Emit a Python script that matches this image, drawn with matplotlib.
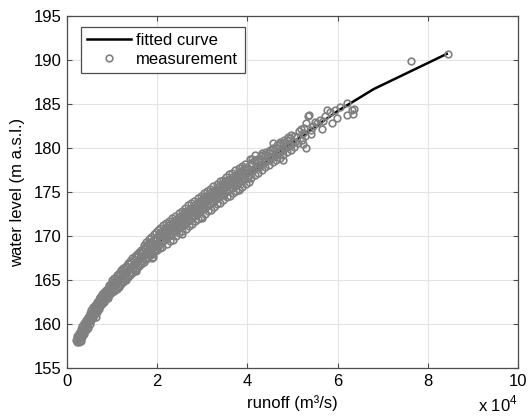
import matplotlib
matplotlib.use("Agg")
import matplotlib.pyplot as plt

plt.rcParams["font.family"] = ["Liberation Sans", "DejaVu Sans"]
plt.rcParams["mathtext.fontset"] = "custom"
plt.rcParams["mathtext.rm"] = "Liberation Sans"

# fitted rating curve (runoff in 1e4 m3/s, level in m a.s.l.)
curve_runoff = [0.22, 0.3, 0.4, 0.5, 0.6, 0.7, 0.8, 0.9, 1.0, 1.25, 1.5, 1.75,
                2.0, 2.5, 3.0, 3.5, 4.0, 4.5, 5.0, 5.5, 6.0, 6.8, 8.42]
curve_level = [158.0, 158.75, 159.7, 160.6, 161.5, 162.25, 162.95, 163.6, 164.2,
               165.6, 166.9, 168.1, 169.2, 171.3, 173.3, 175.2, 177.0, 178.8,
               180.6, 182.4, 184.2, 186.7, 190.7]

# measurements, low flows
low_runoff = [0.21, 0.23, 0.24, 0.26, 0.27, 0.29, 0.30, 0.32, 0.33, 0.35, 0.36, 0.38,
              0.39, 0.41, 0.42, 0.44, 0.45, 0.47, 0.48, 0.50, 0.51, 0.53, 0.54, 0.56,
              0.57, 0.59, 0.60, 0.62, 0.63, 0.65, 0.66, 0.68, 0.69, 0.71, 0.72, 0.74,
              0.75, 0.77, 0.78, 0.80, 0.81, 0.83, 0.84, 0.86, 0.87, 0.89, 0.90, 0.92,
              0.93, 0.95, 0.96, 0.98, 0.99, 1.01,
              0.22, 0.26, 0.26, 0.30, 0.30, 0.34, 0.34, 0.38, 0.38, 0.42, 0.42, 0.46,
              0.46, 0.50, 0.50, 0.54, 0.54, 0.58, 0.58, 0.62, 0.62, 0.66, 0.66, 0.70,
              0.70, 0.74, 0.74, 0.78, 0.78, 0.82, 0.82, 0.86, 0.86, 0.90, 0.90, 0.94,
              0.94, 0.98, 0.98, 1.02]
low_level = [158.2, 157.9, 158.5, 158.1, 158.8, 158.4, 159.1, 158.7, 159.4, 158.9, 159.6, 159.3,
             159.9, 159.5, 160.2, 159.8, 160.4, 160.1, 160.7, 160.3, 160.9, 160.6, 161.2, 160.8,
             161.4, 161.1, 161.7, 161.3, 161.9, 161.6, 162.2, 161.8, 162.4, 162.1, 162.6, 162.3,
             162.8, 162.5, 163.0, 162.7, 163.2, 162.9, 163.4, 163.1, 163.6, 163.3, 163.8, 163.5,
             164.0, 163.7, 164.1, 163.9, 164.4, 164.0,
             158.6, 157.9, 159.0, 158.1, 159.4, 158.5, 159.8, 158.9, 160.1, 159.3, 160.5, 159.6,
             160.8, 160.0, 161.2, 160.4, 161.6, 160.7, 161.9, 161.1, 162.2, 161.4, 162.5, 161.7,
             162.8, 162.0, 163.1, 162.3, 163.4, 162.5, 163.6, 162.8, 163.9, 163.0, 164.1, 163.3,
             164.4, 163.5, 164.6, 163.8]

# measurements, 1-2 x 1e4
mid_runoff = [1.03, 1.05, 1.07, 1.08, 1.10, 1.12, 1.13, 1.15, 1.17, 1.18, 1.20, 1.22,
              1.23, 1.25, 1.27, 1.28, 1.30, 1.32, 1.33, 1.35, 1.37, 1.38, 1.40, 1.42,
              1.43, 1.45, 1.47, 1.48, 1.50, 1.52, 1.53, 1.55, 1.57, 1.58, 1.60, 1.62,
              1.63, 1.65, 1.67, 1.68, 1.70, 1.72, 1.73, 1.75, 1.77, 1.78, 1.80, 1.82,
              1.83, 1.85, 1.87, 1.88, 1.90, 1.92, 1.93, 1.95, 1.97, 1.98, 2.00, 2.02,
              1.00, 1.025, 1.05, 1.05, 1.075, 1.10, 1.10, 1.125, 1.15, 1.15, 1.175, 1.20,
              1.20, 1.225, 1.25, 1.25, 1.275, 1.30, 1.30, 1.325, 1.35, 1.35, 1.375, 1.40,
              1.40, 1.425, 1.45, 1.45, 1.475, 1.50, 1.50, 1.525, 1.55, 1.55, 1.575, 1.60,
              1.60, 1.625, 1.65, 1.65, 1.675, 1.70, 1.70, 1.725, 1.75, 1.75, 1.775, 1.80,
              1.80, 1.825, 1.85, 1.85, 1.875, 1.90, 1.90, 1.925, 1.95, 1.95, 1.975, 2.00,
              1.70, 1.76, 1.82, 1.87, 1.92, 1.97, 2.01]
mid_level = [164.8, 164.4, 164.0, 165.1, 164.7, 164.3, 165.4, 165.0, 164.6, 165.7, 165.3, 164.9,
             166.0, 165.6, 165.1, 166.3, 165.8, 165.4, 166.5, 166.1, 165.7, 166.8, 166.4, 165.9,
             167.1, 166.6, 166.2, 167.3, 166.9, 166.4, 167.6, 167.1, 166.7, 167.8, 167.4, 166.9,
             168.1, 167.6, 167.2, 168.3, 167.9, 167.4, 168.5, 168.1, 167.6, 168.8, 168.3, 167.9,
             169.0, 168.5, 168.1, 169.2, 168.8, 168.3, 169.5, 169.0, 168.5, 169.7, 169.2, 168.7,
             165.0, 164.35, 163.7, 165.25, 164.6, 163.95, 165.55, 164.9, 164.25, 165.85, 165.2, 164.55,
             166.1, 165.45, 164.8, 166.4, 165.75, 165.1, 166.65, 166.0, 165.35, 166.9, 166.25, 165.6,
             167.15, 166.5, 165.85, 167.45, 166.8, 166.15, 167.7, 167.05, 166.4, 167.95, 167.3, 166.65,
             168.15, 167.5, 166.85, 168.4, 167.75, 167.1, 168.65, 168.0, 167.35, 168.85, 168.2, 167.55,
             169.1, 168.45, 167.8, 169.3, 168.65, 168.0, 169.55, 168.9, 168.25, 169.75, 169.1, 168.45,
             169.0, 169.35, 169.65, 169.9, 170.2, 170.45, 170.65]

# measurements, 2-4 x 1e4
high_runoff = [2.04, 2.06, 2.05, 2.07, 2.11, 2.13, 2.12, 2.10, 2.18, 2.20, 2.19, 2.21,
               2.25, 2.27, 2.26, 2.28, 2.32, 2.34, 2.33, 2.35, 2.39, 2.41, 2.40, 2.42,
               2.46, 2.48, 2.47, 2.49, 2.53, 2.55, 2.54, 2.56, 2.60, 2.62, 2.61, 2.63,
               2.67, 2.69, 2.68, 2.70, 2.74, 2.76, 2.75, 2.77, 2.81, 2.83, 2.82, 2.84,
               2.88, 2.90, 2.89, 2.91, 2.95, 2.97, 2.96, 2.98, 3.02, 3.04, 3.03, 3.05,
               3.09, 3.11, 3.10, 3.12, 3.16, 3.18, 3.17, 3.19, 3.23, 3.25, 3.24, 3.26,
               3.30, 3.32, 3.31, 3.33, 3.37, 3.39, 3.38, 3.40, 3.44, 3.46, 3.45, 3.47,
               3.51, 3.53, 3.52, 3.54, 3.58, 3.60, 3.59, 3.61, 3.65, 3.67, 3.66, 3.68,
               3.72, 3.74, 3.73, 3.75, 3.79, 3.81, 3.80, 3.82, 3.86, 3.88, 3.87, 3.89,
               3.93, 3.95, 3.94, 3.96, 4.00, 4.02, 4.01, 4.03,
               2.055, 2.085, 2.115, 2.125, 2.155, 2.185, 2.195, 2.225, 2.255, 2.265, 2.295, 2.325,
               2.335, 2.365, 2.395, 2.405, 2.435, 2.465, 2.475, 2.505, 2.535, 2.545, 2.575, 2.605,
               2.615, 2.645, 2.675, 2.685, 2.715, 2.745, 2.755, 2.785, 2.815, 2.825, 2.855, 2.885,
               2.895, 2.925, 2.955, 2.965, 2.995, 3.025, 3.035, 3.065, 3.095, 3.105, 3.135, 3.165,
               3.175, 3.205, 3.235, 3.245, 3.275, 3.305, 3.315, 3.345, 3.375, 3.385, 3.415, 3.445,
               3.455, 3.485, 3.515, 3.525, 3.555, 3.585, 3.595, 3.625, 3.655, 3.665, 3.695, 3.725,
               3.735, 3.765, 3.795, 3.805, 3.835, 3.865, 3.875, 3.905, 3.935, 3.945, 3.975, 4.005]
high_level = [170.2, 169.7, 169.1, 168.6, 170.6, 170.0, 169.4, 168.8, 170.9, 170.3, 169.7, 169.1,
              171.2, 170.6, 170.0, 169.4, 171.5, 170.9, 170.3, 169.6, 171.8, 171.2, 170.6, 170.0,
              172.1, 171.5, 170.9, 170.3, 172.3, 171.8, 171.1, 170.6, 172.7, 172.0, 171.4, 170.8,
              172.9, 172.3, 171.7, 171.1, 173.2, 172.6, 172.0, 171.4, 173.5, 172.9, 172.3, 171.7,
              173.8, 173.1, 172.5, 171.9, 174.0, 173.4, 172.8, 172.2, 174.3, 173.7, 173.1, 172.5,
              174.6, 174.0, 173.4, 172.8, 174.9, 174.2, 173.6, 173.0, 175.1, 174.5, 173.9, 173.3,
              175.4, 174.8, 174.2, 173.6, 175.7, 175.0, 174.4, 173.8, 175.9, 175.3, 174.7, 174.1,
              176.2, 175.6, 175.0, 174.4, 176.4, 175.8, 175.2, 174.6, 176.7, 176.1, 175.5, 174.9,
              176.9, 176.3, 175.7, 175.1, 177.2, 176.6, 176.0, 175.4, 177.4, 176.8, 176.2, 175.6,
              177.7, 177.1, 176.5, 175.9, 177.9, 177.3, 176.7, 176.1,
              170.9, 170.2, 169.5, 171.2, 170.5, 169.8, 171.5, 170.8, 170.1, 171.7, 171.0, 170.4,
              172.0, 171.3, 170.7, 172.3, 171.6, 171.0, 172.6, 171.9, 171.3, 172.9, 172.2, 171.6,
              173.2, 172.5, 171.8, 173.5, 172.8, 172.1, 173.7, 173.0, 172.4, 174.0, 173.3, 172.7,
              174.3, 173.6, 173.0, 174.6, 173.9, 173.2, 174.9, 174.2, 173.5, 175.1, 174.4, 173.8,
              175.4, 174.7, 174.0, 175.7, 175.0, 174.3, 175.9, 175.2, 174.6, 176.2, 175.5, 174.8,
              176.4, 175.7, 175.1, 176.7, 176.0, 175.4, 177.0, 176.3, 175.6, 177.2, 176.5, 175.9,
              177.5, 176.8, 176.1, 177.7, 177.0, 176.4, 178.0, 177.3, 176.6, 178.2, 177.5, 176.9]

# measurements, 4-5 x 1e4
upper_runoff = [4.07, 4.09, 4.08, 4.15, 4.17, 4.16, 4.23, 4.25, 4.24, 4.31, 4.33, 4.32,
                4.39, 4.41, 4.40, 4.47, 4.49, 4.48, 4.55, 4.57, 4.56, 4.63, 4.65, 4.64,
                4.71, 4.73, 4.72, 4.79, 4.81, 4.80, 4.87, 4.89, 4.88, 4.95, 4.97, 4.96,
                5.03, 5.05, 5.04,
                4.09, 4.13, 4.17, 4.21, 4.25, 4.29, 4.33, 4.37, 4.41, 4.45, 4.49, 4.53,
                4.57, 4.61, 4.65, 4.69, 4.73, 4.77, 4.81, 4.85, 4.89, 4.93, 4.97, 5.01]
upper_level = [178.1, 177.3, 176.6, 178.5, 177.7, 176.9, 178.6, 177.8, 177.2, 179.1, 178.2, 177.5,
               179.2, 178.5, 177.8, 179.6, 178.7, 178.1, 179.8, 179.0, 178.4, 180.0, 179.3, 178.6,
               180.4, 179.6, 178.9, 180.6, 179.9, 179.2, 180.9, 180.2, 179.5, 181.1, 180.4, 179.8,
               181.4, 180.7, 180.1,
               178.3, 177.5, 178.6, 177.8, 178.9, 178.1, 179.2, 178.4, 179.5, 178.6, 179.8, 178.9,
               180.0, 179.2, 180.3, 179.5, 180.6, 179.8, 180.9, 180.1, 181.2, 180.4, 181.5, 180.7]

# sparse measurements and outliers
sparse_runoff = [0.64, 1.31, 1.52, 1.89, 1.90, 2.54, 3.00, 3.81, 4.06, 4.10, 4.17, 4.32,
                 4.57, 4.72, 4.80, 5.09, 5.12, 5.15, 5.18, 5.20, 5.23, 5.24, 5.25, 5.28,
                 5.30, 5.31, 5.35, 5.36, 5.40, 5.42, 5.45, 5.50, 5.54, 5.60, 5.65, 5.68,
                 5.72, 5.76, 5.83, 5.87, 5.94, 5.98, 6.05, 6.20, 6.20, 6.31, 6.35, 6.36,
                 7.63, 8.44]
sparse_level = [160.8, 165.0, 166.0, 167.5, 167.6, 170.2, 172.0, 175.2, 178.8, 178.8, 179.2, 179.4,
                180.6, 180.7, 178.6, 181.3, 180.6, 181.9, 182.2, 180.9, 180.5, 181.7, 182.3, 181.4,
                180.0, 182.8, 183.6, 183.8, 182.1, 181.6, 182.5, 183.0, 182.8, 183.2, 182.2, 183.1,
                183.6, 184.3, 184.1, 182.8, 184.3, 183.4, 184.7, 185.1, 183.75, 184.3, 183.9, 184.4,
                189.9, 190.65]

x_ticks = [0, 2, 4, 6, 8, 10]
y_ticks = [155, 160, 165, 170, 175, 180, 185, 190, 195]

meas_runoff = low_runoff + mid_runoff + high_runoff + upper_runoff + sparse_runoff
meas_level = low_level + mid_level + high_level + upper_level + sparse_level

fig = plt.figure(figsize=(5.3, 4.18), dpi=100)
ax = fig.add_axes([0.1264, 0.1196, 0.851, 0.842])

ax.plot(curve_runoff, curve_level, color="black", lw=1.8, label="fitted curve", zorder=2)
ax.plot(meas_runoff, meas_level, linestyle="none", marker="o", markersize=4.8,
        mfc="none", mec="#808080", mew=1.2, label="measurement", zorder=3)

ax.set_xlim(0, 10)
ax.set_ylim(155, 195)
ax.set_xticks(x_ticks)
ax.set_yticks(y_ticks)
ax.grid(True, color="#e4e4e4", lw=0.8)
ax.set_axisbelow(True)
ax.tick_params(direction="in", length=3.5, top=True, right=True, labelsize=12,
               color="#4d4d4d", pad=4)
for s in ax.spines.values():
    s.set_color("#4d4d4d")
    s.set_linewidth(0.9)

ax.set_xlabel("runoff (m³/s)", fontsize=12, labelpad=5)
ax.set_ylabel("water level (m a.s.l.)", fontsize=12, labelpad=6)
fig.text(0.977, 0.008, r"x 10$^{4}$", ha="right", va="bottom", fontsize=12)

leg = ax.legend(loc="upper left", bbox_to_anchor=(0.03, 0.97), borderaxespad=0,
                fontsize=12, fancybox=False, framealpha=1, edgecolor="#4d4d4d",
                handlelength=2.6, handletextpad=0.35, labelspacing=0.2,
                borderpad=0.4)
leg.get_frame().set_linewidth(0.9)

fig.savefig("out.png", dpi=100)
